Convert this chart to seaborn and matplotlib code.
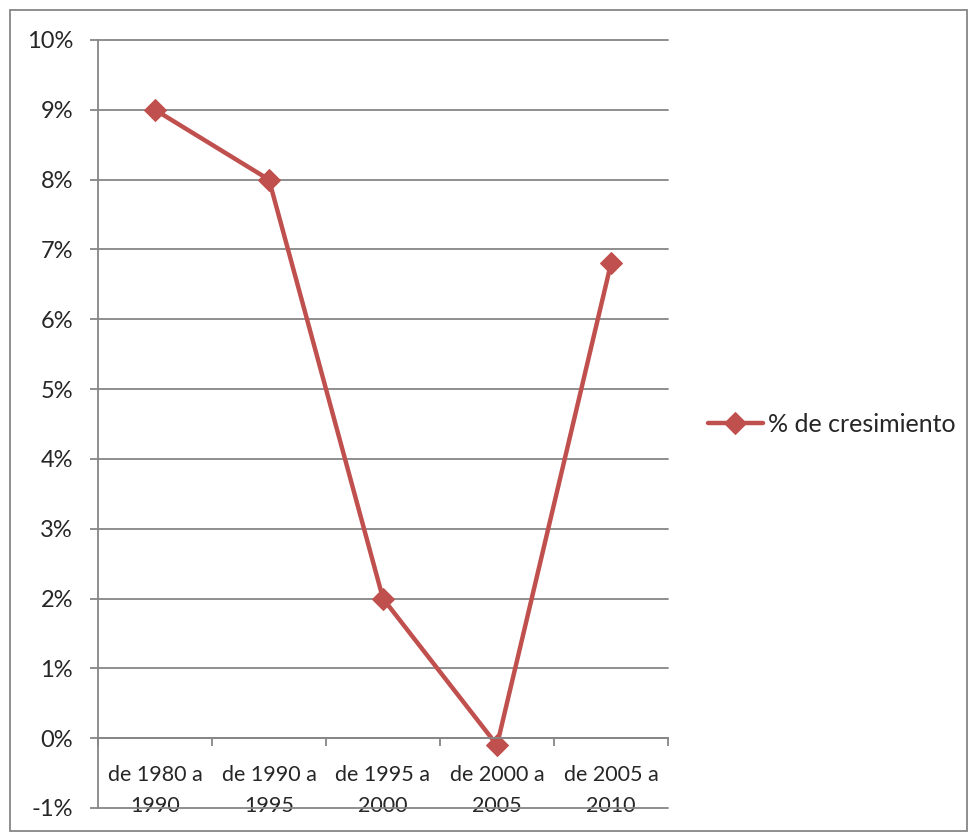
import seaborn as sns
import matplotlib.pyplot as plt
import matplotlib.patches as mpatches
import pandas as pd
import numpy as np

# data
periodos = ['de 1980 a 1990', 'de 1990 a 1995', 'de 1995 a 2000',
            'de 2000 a 2005', 'de 2005 a 2010']
etiquetas = ['de 1980 a\n1990', 'de 1990 a\n1995', 'de 1995 a\n2000',
             'de 2000 a\n2005', 'de 2005 a\n2010']
crecimiento = [9.0, 8.0, 2.0, -0.1, 6.8]
y_ticks = list(range(-1, 11))

sns.set_style("white")
plt.rcParams['font.family'] = ['Lato', 'DejaVu Sans']
plt.rcParams['axes.unicode_minus'] = False

df = pd.DataFrame({'periodo': periodos, 'pos': np.arange(len(periodos)),
                   'crecimiento': crecimiento})

fig = plt.figure(figsize=(9.7, 8.33), dpi=100)
ax = fig.add_axes([98 / 970, 1 - 808 / 833, 570 / 970, 768 / 833])

gris = '#868686'
rojo = '#C0504D'
fs = 17

sns.lineplot(data=df, x='pos', y='crecimiento', ax=ax, color=rojo,
             linewidth=3.2, marker='D', markersize=11, markeredgecolor=rojo,
             label='% de cresimiento')

# spine moves first: set_position resets the ticks
ax.spines['bottom'].set_position(('data', 0))
ax.spines['bottom'].set_color(gris)
ax.spines['bottom'].set_linewidth(1.3)
ax.spines['left'].set_color(gris)
ax.spines['left'].set_linewidth(1.3)
ax.spines['top'].set_visible(False)
ax.spines['right'].set_visible(False)

ax.set_xlim(-0.5, len(periodos) - 0.5)
ax.set_ylim(-1, 10)
ax.set_yticks(y_ticks)
ax.set_yticklabels([f'{v}%' for v in y_ticks], fontsize=fs)
ax.yaxis.grid(True, color=gris, linewidth=1.3)
for gl in ax.get_ygridlines():
    gl.set_clip_on(False)
ax.set_axisbelow(True)

ax.set_xticks(np.arange(len(periodos) + 1) - 0.5, minor=True)
ax.set_xticks(df['pos'], labels=etiquetas, fontsize=15.5, linespacing=1.7)
ax.tick_params(axis='x', which='major', bottom=True, length=0, pad=19)
ax.tick_params(axis='x', which='minor', bottom=True, length=6, width=1.3,
               color=gris, direction='out')
ax.tick_params(axis='y', left=True, length=6, width=1.3, color=gris,
               direction='out', pad=12)

ax.set_xlabel('')
ax.set_ylabel('')

ax.legend(loc='center left', bbox_to_anchor=(1.07, 0.5), frameon=False,
          fontsize=18, handlelength=2.2, handletextpad=0.2,
          borderaxespad=0, borderpad=0)

# outer chart border
fig.patches.append(mpatches.Rectangle((10 / 970, 2 / 833), 957 / 970, 821 / 833,
                                      transform=fig.transFigure, fill=False,
                                      edgecolor=gris, linewidth=1.3))

fig.savefig('out.png', dpi=100)
